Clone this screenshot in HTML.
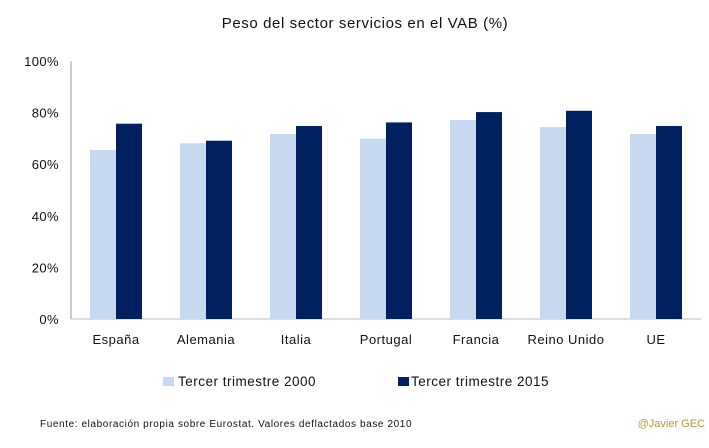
<!DOCTYPE html>
<html><head><meta charset="utf-8"><style>
body{margin:0;background:#fff;font-family:"Liberation Sans","DejaVu Sans",sans-serif}
svg text{font-family:"Liberation Sans","DejaVu Sans",sans-serif}
</style></head><body>
<svg width="709" height="443" viewBox="0 0 709 443">
<text x="365" y="28" text-anchor="middle" font-size="15" letter-spacing="0.6" fill="#111">Peso del sector servicios en el VAB (%)</text>
<g id="axes"></g>
<g id="bars"></g>
<g>
<rect x="163" y="377" width="11" height="9" fill="#c6d9f0"/>
<text x="178" y="386" font-size="13.5" letter-spacing="0.5" fill="#111">Tercer trimestre 2000</text>
<rect x="398" y="377" width="11" height="9" fill="#002060"/>
<text x="411" y="386" font-size="13.5" letter-spacing="0.5" fill="#111">Tercer trimestre 2015</text>
</g>
<text x="40" y="427" font-size="10" letter-spacing="0.6" fill="#111">Fuente: elaboración propia sobre Eurostat. Valores deflactados base 2010</text>
<text x="705" y="427" text-anchor="end" font-size="11" fill="#b39a3a">@Javier GEC</text>
</svg>
<script>
const categories=["España","Alemania","Italia","Portugal","Francia","Reino Unido","UE"];
const values2000=[65.5,68.1,71.7,69.9,77.1,74.4,71.7];
const values2015=[75.7,69.1,74.8,76.2,80.2,80.7,74.8];
const yTicks=[0,20,40,60,80,100];
const NS="http://www.w3.org/2000/svg";
const x0=71,groupW=90,barW=26,y0=319,yTop=61;
const y=v=>y0-(v/100)*(y0-yTop);
const axes=document.getElementById('axes'),bars=document.getElementById('bars');
function mk(tag,attrs,parent){const e=document.createElementNS(NS,tag);for(const k in attrs)e.setAttribute(k,attrs[k]);parent.appendChild(e);return e;}
let ax=mk('line',{x1:x0,y1:yTop,x2:x0,y2:y0,stroke:'#999'},axes);


let bx=mk('line',{x1:x0,y1:y0,x2:x0+groupW*categories.length,y2:y0,stroke:'#bbb'},axes);


yTicks.forEach(t=>{
 const tx=mk('text',{x:x0-12,y:y(t)+5,'text-anchor':'end','font-size':'13','letter-spacing':'0.4',fill:'#111'},axes);
 tx.textContent=t+'%';
 
 
});
categories.forEach((c,i)=>{
 const cx=x0+groupW*i+groupW/2;
 const r1=mk('rect',{x:cx-barW,y:y(values2000[i]),width:barW,height:y0-y(values2000[i]),fill:'#c6d9f0'},bars);
 
 
 const r2=mk('rect',{x:cx,y:y(values2015[i]),width:barW,height:y0-y(values2015[i]),fill:'#002060'},bars);
 
 
 const t=mk('text',{x:cx,y:344,'text-anchor':'middle','font-size':'13','letter-spacing':'0.5',fill:'#111'},axes);
 t.textContent=c;
 
 
});
</script>
</body></html>
